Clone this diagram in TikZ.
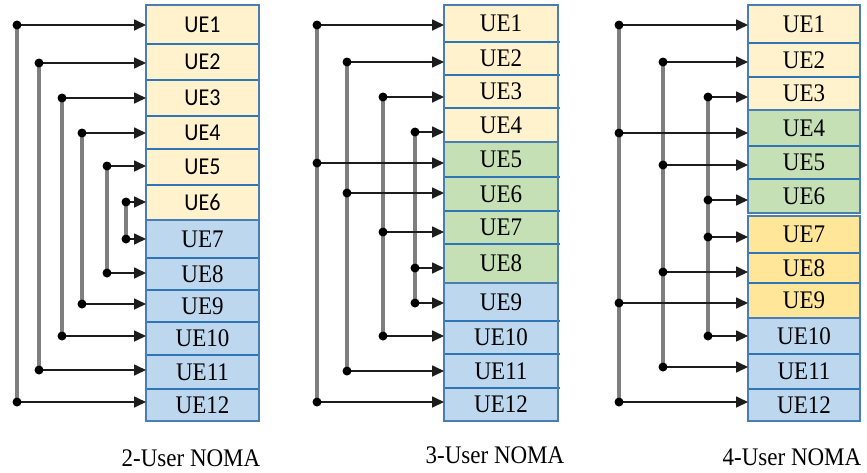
\documentclass[tikz,border=0pt]{standalone}
\usepackage{graphicx}
\usepackage{fontspec}
\setmainfont{Liberation Serif}
\newfontfamily\calfont{Carlito}
\usetikzlibrary{arrows.meta}
\definecolor{yel}{HTML}{FFF2CC}
\definecolor{grn}{HTML}{C5E0B4}
\definecolor{blu}{HTML}{BDD7EE}
\definecolor{org}{HTML}{FFE699}
\definecolor{divc}{HTML}{2E75B6}
\definecolor{frm}{HTML}{4A7DB3}
\definecolor{vgray}{HTML}{7F7F7F}
\definecolor{arrc}{HTML}{1C1C1C}
\newcommand\uelab[1]{\scalebox{1}[1.1]{UE#1}}
\begin{document}
\begin{tikzpicture}[x=1pt,y=-1pt,
  cell/.style={rectangle, inner sep=0pt, outer sep=0pt, anchor=north west},
  sansf/.style={font=\calfont\fontsize{22}{22}\selectfont},
  seriff/.style={font=\fontsize{23}{23}\selectfont},
  divl/.style={draw=divc, line width=2pt},
  frame/.style={draw=frm, line width=1.3pt},
  vl/.style={draw=vgray, line width=4pt},
  arr/.style={draw=arrc, line width=1.7pt, -{Triangle[length=12pt,width=11pt]}},
  dot/.style={fill=black},
  captxt/.style={font=\fontsize{23}{23}\selectfont}]
\useasboundingbox (0,0) rectangle (867,472);

% ---------------- Panel 1 ----------------
\foreach \n/\t/\b/\c/\f in {1/5/44/yel/sansf,2/44/80/yel/sansf,3/80/116/yel/sansf,4/116/149/yel/sansf,5/149/185/yel/sansf,6/185/220/yel/sansf,
  7/220/258/blu/seriff,8/258/290/blu/seriff,9/290/322/blu/seriff,10/322/355/blu/seriff,11/355/389/blu/seriff,12/389/421/blu/seriff}{
  \node[cell,\f,fill=\c,minimum width=113pt,minimum height={(\b-\t)*1pt}] (p1c\n) at (146,\t) {\uelab{\n}};
}
\foreach \n in {1,...,5,7,8,9,10,11}{\draw[divl] (p1c\n.south west) -- (p1c\n.south east);}
\draw[frame] (p1c1.north west) rectangle (p1c6.south east);
\draw[frame] (p1c7.north west) rectangle (p1c12.south east);

\foreach \n/\x/\y in {1/17/25,2/39/63,3/62/98,4/82/133,5/107/166,6/126/202,7/126/239,8/107/273,9/82/304,10/62/336,11/39/370,12/17/402}{
  \coordinate (p1d\n) at (\x,\y);
}
\foreach \a/\b in {1/12,2/11,3/10,4/9,5/8,6/7}{\draw[vl] (p1d\a) -- (p1d\b);}
\foreach \n in {1,...,12}{\draw[arr] (p1d\n) -- (p1d\n -| p1c\n.west);}
\foreach \n in {1,...,12}{\fill[dot] (p1d\n) circle[radius=4.5pt];}

% ---------------- Panel 2 ----------------
\foreach \n/\t/\b/\c in {1/5/42/yel,2/42/75/yel,3/75/108/yel,4/108/142/yel,
  5/142/177/grn,6/177/211/grn,7/211/244/grn,8/244/283/grn,
  9/283/321/blu,10/321/354/blu,11/354/388/blu,12/388/421/blu}{
  \node[cell,seriff,fill=\c,minimum width=114pt,minimum height={(\b-\t)*1pt}] (p2c\n) at (444,\t) {\uelab{\n}};
}
\foreach \n in {1,2,3,5,6,7,9,10,11}{\draw[divl] (p2c\n.south west) -- ([xshift=2pt]p2c\n.south east);}
\draw[frame] (p2c1.north west) rectangle (p2c4.south east);
\draw[frame] (p2c5.north west) rectangle (p2c8.south east);
\draw[frame] (p2c9.north west) rectangle (p2c12.south east);

\foreach \n/\x/\y in {1/317/25,2/347/62,3/383/97,4/415/132,5/317/163,6/347/193,7/383/232,8/415/268,9/415/303,10/383/336,11/347/371,12/317/402}{
  \coordinate (p2d\n) at (\x,\y);
}
\foreach \a/\b in {1/12,2/11,3/10,4/9}{\draw[vl] (p2d\a) -- (p2d\b);}
\foreach \n in {1,...,12}{\draw[arr] (p2d\n) -- (p2d\n -| p2c\n.west);}
\foreach \n in {1,...,12}{\fill[dot] (p2d\n) circle[radius=4.5pt];}

% ---------------- Panel 3 ----------------
\foreach \n/\t/\b/\c in {1/5/43/yel,2/43/77/yel,3/77/110/yel,
  4/110/146/grn,5/146/179/grn,6/179/213/grn,
  7/216/253/org,8/253/283/org,9/283/318/org,
  10/318/354/blu,11/354/389/blu,12/389/421/blu}{
  \node[cell,seriff,fill=\c,minimum width=112pt,minimum height={(\b-\t)*1pt}] (p3c\n) at (748,\t) {\uelab{\n}};
}
\foreach \n in {1,2,4,5,7,8,10,11}{\draw[divl] (p3c\n.south west) -- (p3c\n.south east);}
\draw[frame] (p3c1.north west) rectangle (p3c3.south east);
\draw[frame] (p3c4.north west) rectangle (p3c6.south east);
\draw[frame] (p3c7.north west) rectangle (p3c9.south east);
\draw[frame] (p3c10.north west) rectangle (p3c12.south east);

\foreach \n/\x/\y in {1/619/25,2/663/62,3/708/97,4/619/133,5/663/165,6/708/200,7/708/237,8/663/272,9/619/303,10/708/336,11/663/367,12/619/402}{
  \coordinate (p3d\n) at (\x,\y);
}
\foreach \a/\b in {1/12,2/11,3/10}{\draw[vl] (p3d\a) -- (p3d\b);}
\foreach \n in {1,...,12}{\draw[arr] (p3d\n) -- (p3d\n -| p3c\n.west);}
\foreach \n in {1,...,12}{\fill[dot] (p3d\n) circle[radius=4.5pt];}

% ---------------- Captions ----------------
\node[captxt] (cap1) at (191,458) {\scalebox{1}[1.1]{2-User NOMA}};
\node[captxt] (cap2) at (495,455) {\scalebox{1}[1.1]{3-User NOMA}};
\node[captxt] (cap3) at (792,457) {\scalebox{1}[1.1]{4-User NOMA}};
\end{tikzpicture}
\end{document}
